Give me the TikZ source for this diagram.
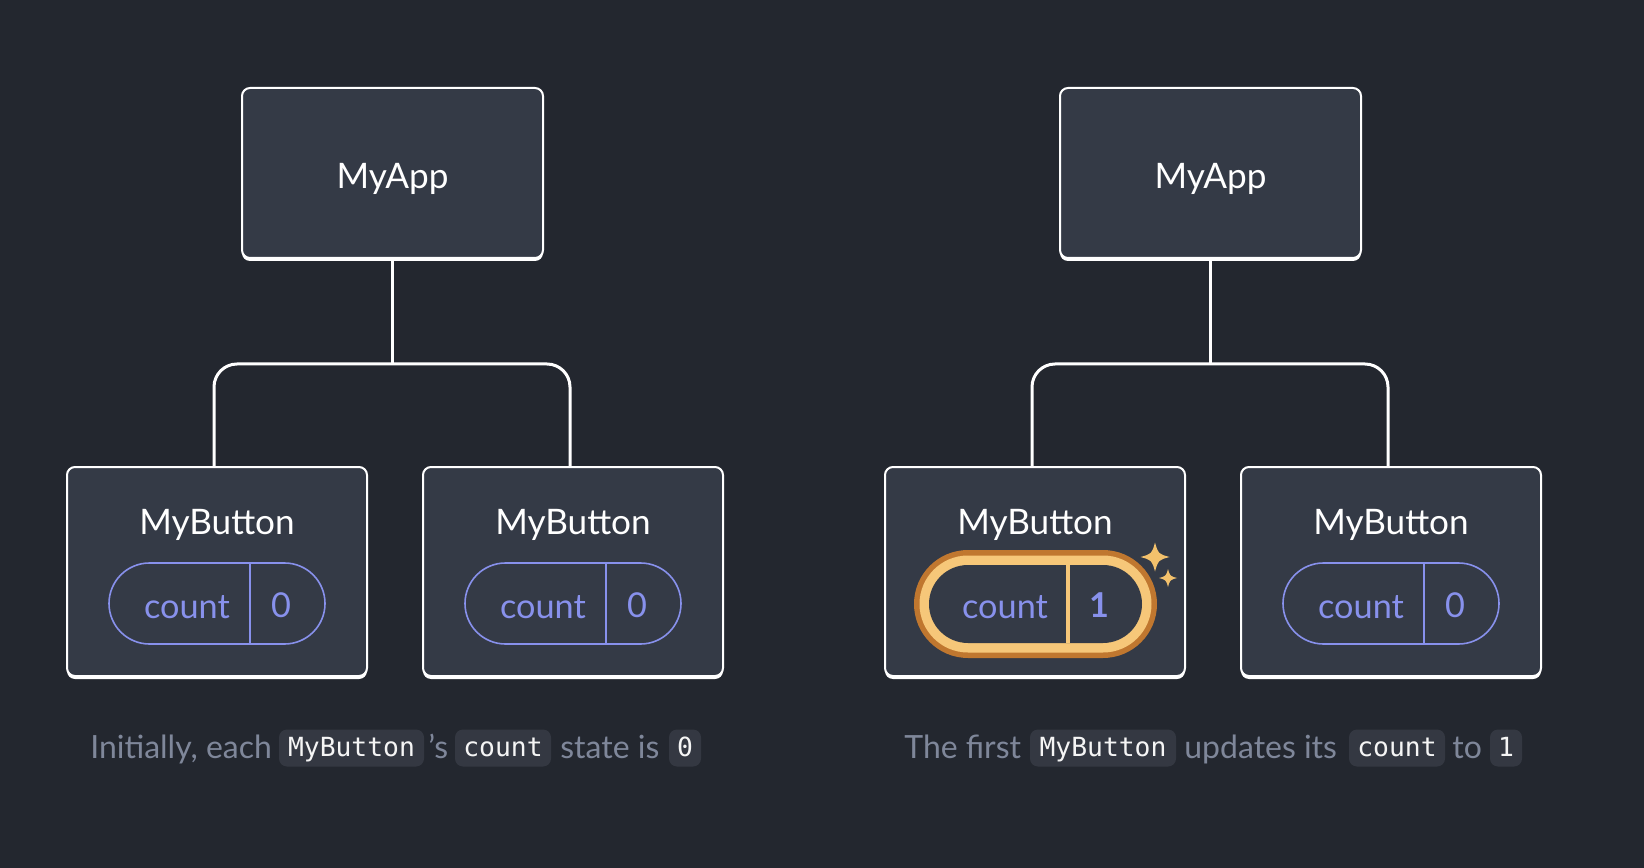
\documentclass[tikz,border=0pt]{standalone}
\usepackage{fontspec}
\setmainfont{Lato}
\setmonofont{DejaVu Sans Mono}
\usetikzlibrary{shadows}
\newdimen\pxu \pxu=0.02cm
\definecolor{bgc}{HTML}{23272F}
\definecolor{boxc}{HTML}{343A46}
\definecolor{chipc}{HTML}{343842}
\definecolor{capc}{HTML}{7F879A}
\definecolor{purp}{HTML}{8891EC}
\definecolor{orgdark}{HTML}{C0772F}
\definecolor{orglight}{HTML}{F6C779}
\definecolor{sparkc}{HTML}{F3C16C}
\begin{document}
\begin{tikzpicture}[x=0.02cm, y=-0.02cm,
  comp/.style={draw=white, line width=2\pxu, fill=boxc, rounded corners=8\pxu,
    drop shadow={shadow xshift=0pt, shadow yshift=-3\pxu, fill=white, opacity=1}},
  title/.style={text=white, font=\fontsize{20}{24}\selectfont, inner sep=0pt},
  wire/.style={draw=white, line width=3\pxu},
  pill/.style={draw=purp, line width=1.6\pxu, rounded corners=40.5\pxu,
    minimum width=216\pxu, minimum height=81\pxu, inner sep=0pt},
  pilltext/.style={text=purp, font=\fontsize{19.5}{22}\selectfont, inner sep=0pt},
  caption/.style={text=capc, font=\fontsize{18.2}{21}\selectfont, inner sep=0pt, anchor=base west},
  chip/.style={fill=chipc, text=white!96!black, rounded corners=8\pxu, inner sep=0pt,
    minimum height=37\pxu, text height=1em, text depth=0.05em,
    font=\ttfamily\fontsize{15}{17}\selectfont},
  sparkle/.pic={\fill[sparkc] (0,-1) .. controls (0.22,-0.22) .. (1,0)
      .. controls (0.22,0.22) .. (0,1) .. controls (-0.22,0.22) .. (-1,0)
      .. controls (-0.22,-0.22) .. cycle;}
]
% canvas
\fill[bgc] (0,0) rectangle (1644,868);
\useasboundingbox (0,0) rectangle (1644,868);

% ---------- left tree: initial state ----------
\node[comp, minimum width=301\pxu, minimum height=170\pxu] (appL) at (392.5,173) {};
\node[title] (appLt) at (392.5,179) {MyApp};

\node[comp, minimum width=300\pxu, minimum height=209\pxu] (b1) at (217,571.5) {};
\node[title] (b1t) at (217,525) {MyButton};
\node[pill] (b1p) at (217,603.5) {};
\draw[purp, line width=1.6\pxu] (b1p.north -| 250,0) -- (b1p.south -| 250,0);
\node[pilltext] (b1k) at (187,607) {count};
\node[pilltext] (b1v) at (281,605) {0};

\node[comp, minimum width=300\pxu, minimum height=209\pxu] (b2) at (573,571.5) {};
\node[title] (b2t) at (573,525) {MyButton};
\node[pill] (b2p) at (573,603.5) {};
\draw[purp, line width=1.6\pxu] (b2p.north -| 606,0) -- (b2p.south -| 606,0);
\node[pilltext] (b2k) at (543,607) {count};
\node[pilltext] (b2v) at (637,605) {0};

\coordinate (jL) at (392,364);
\coordinate (b1in) at (214,466);
\coordinate (b2in) at (570,466);
\draw[wire] (appL.south -| jL) -- (jL);
\draw[wire, rounded corners=23\pxu] (b1in) |- (jL) -| (b2in);

% ---------- right tree: first button updated ----------
\node[comp, minimum width=301\pxu, minimum height=170\pxu] (appR) at (1210.5,173) {};
\node[title] (appRt) at (1210.5,179) {MyApp};

\node[comp, minimum width=300\pxu, minimum height=209\pxu] (b3) at (1035,571.5) {};
\node[title] (b3t) at (1035,525) {MyButton};
% highlighted counter with a double orange ring
\fill[orgdark, rounded corners=54\pxu] (914,550) rectangle (1157,658);
\fill[orglight, rounded corners=48.5\pxu] (919.5,555.5) rectangle (1151.5,652.5);
\node[fill=boxc, rounded corners=39\pxu, minimum width=213\pxu, minimum height=78\pxu,
  inner sep=0pt] (b3p) at (1035.5,604) {};
\draw[orglight, line width=4\pxu] (b3p.north -| 1068,0) -- (b3p.south -| 1068,0);
\node[pilltext] (b3k) at (1005,607) {count};
\node[pilltext, font=\bfseries\fontsize{19.5}{22}\selectfont] (b3v) at (1099,605) {1};
\pic[scale=14.5] at (1155,557) {sparkle};
\pic[scale=9] at (1168,578) {sparkle};

\node[comp, minimum width=300\pxu, minimum height=209\pxu] (b4) at (1391,571.5) {};
\node[title] (b4t) at (1391,525) {MyButton};
\node[pill] (b4p) at (1391,603.5) {};
\draw[purp, line width=1.6\pxu] (b4p.north -| 1424,0) -- (b4p.south -| 1424,0);
\node[pilltext] (b4k) at (1361,607) {count};
\node[pilltext] (b4v) at (1455,605) {0};

\coordinate (jR) at (1210,364);
\coordinate (b3in) at (1032,466);
\coordinate (b4in) at (1388,466);
\draw[wire] (appR.south -| jR) -- (jR);
\draw[wire, rounded corners=23\pxu] (b3in) |- (jR) -| (b4in);

% ---------- captions ----------
\node[caption] (c1a) at (90,758) {Initially, each};
\node[chip, minimum width=145\pxu] (c1b) at (351.5,748) {MyButton};
\node[caption] (c1c) at (428,758) {’s};
\node[chip, minimum width=96\pxu] (c1d) at (503,748) {count};
\node[caption] (c1e) at (560,758) {state is};
\node[chip, minimum width=32\pxu] (c1f) at (685,748) {0};

\node[caption] (c2a) at (904,758) {The first};
\node[chip, minimum width=146\pxu] (c2b) at (1103,748) {MyButton};
\node[caption] (c2c) at (1184,758) {updates its};
\node[chip, minimum width=96\pxu] (c2d) at (1397,748) {count};
\node[caption] (c2e) at (1452,758) {to};
\node[chip, minimum width=32\pxu] (c2f) at (1506,748) {1};
\end{tikzpicture}
\end{document}
